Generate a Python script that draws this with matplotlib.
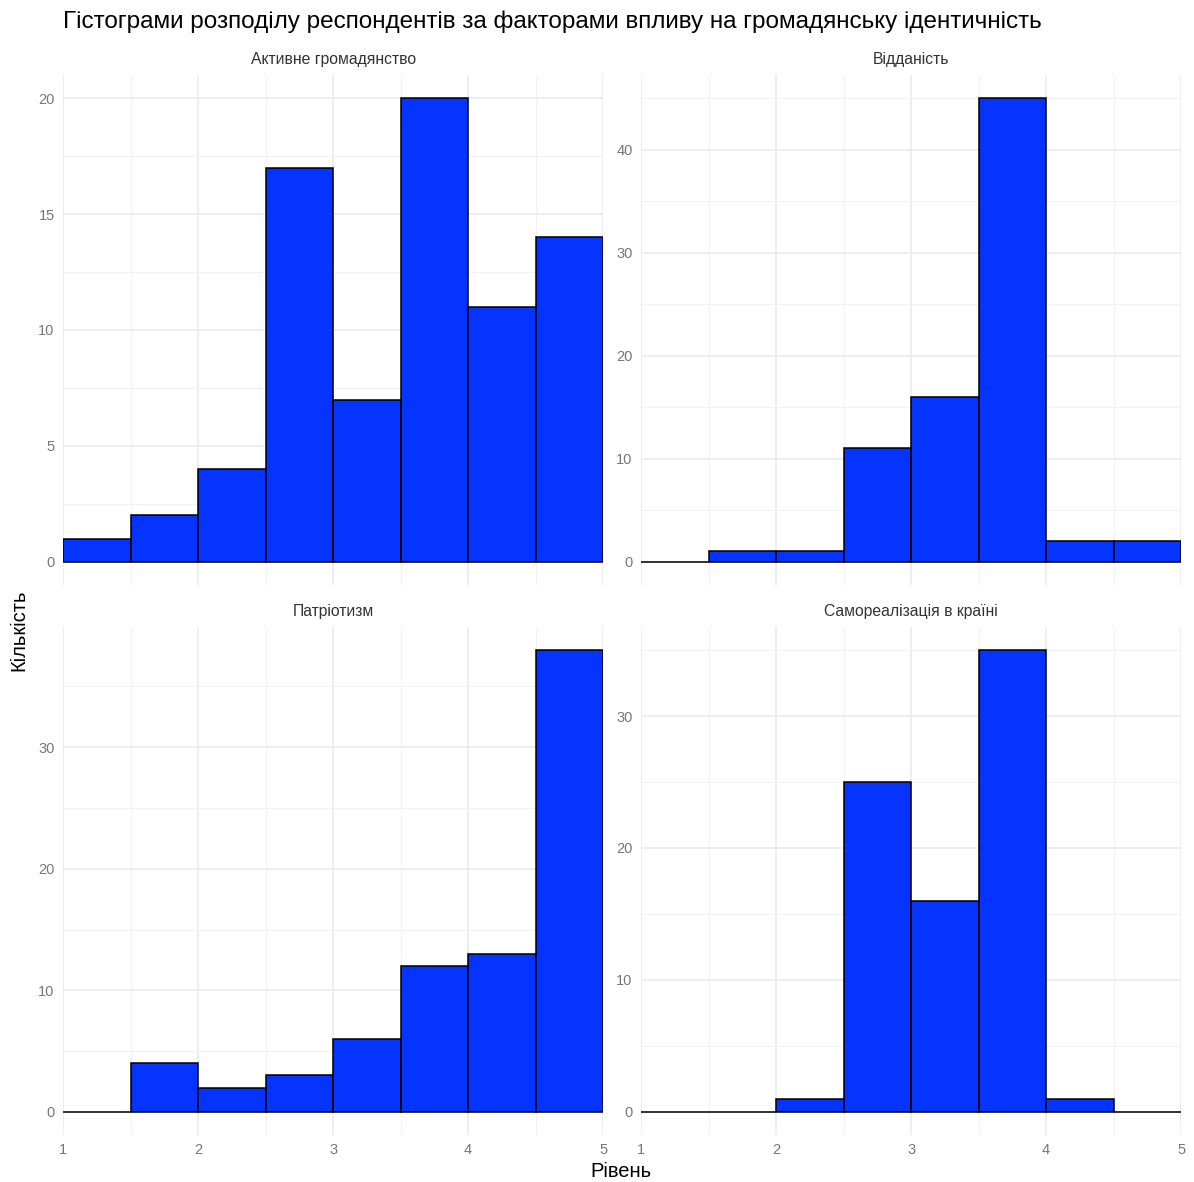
import matplotlib.pyplot as plt
from matplotlib.ticker import MultipleLocator, AutoMinorLocator

plt.rcParams['font.family'] = ['Liberation Sans', 'DejaVu Sans']

# histogram bins (width 0.5 from 1 to 5)
bin_left = [1.0, 1.5, 2.0, 2.5, 3.0, 3.5, 4.0, 4.5]
bin_width = 0.5

facets = ["Активне громадянство", "Відданість", "Патріотизм", "Самореалізація в країні"]
active_citizenship = [1, 2, 4, 17, 7, 20, 11, 14]
devotion = [0, 1, 1, 11, 16, 45, 2, 2]
patriotism = [0, 4, 2, 3, 6, 12, 13, 38]
self_realization = [0, 0, 1, 25, 16, 35, 1, 0]
counts = [active_citizenship, devotion, patriotism, self_realization]
y_steps = [5, 10, 10, 10]

x_ticks = [1, 2, 3, 4, 5]

title = "Гістограми розподілу респондентів за факторами впливу на громадянську ідентичність"

fig = plt.figure(figsize=(11.94, 11.82), dpi=100)

# panel rectangles in figure fractions (facet_wrap 2x2 layout)
panel_pos = [
    [0.0528, 0.5051, 0.4523, 0.4315],
    [0.5369, 0.5051, 0.4523, 0.4315],
    [0.0528, 0.0398, 0.4523, 0.4298],
    [0.5369, 0.0398, 0.4523, 0.4298],
]

for i, name in enumerate(facets):
    ax = fig.add_axes(panel_pos[i])
    vals = counts[i]
    ax.bar(bin_left, vals, width=bin_width, align='edge',
           color='#0533FF', edgecolor='black', linewidth=1.1, zorder=3)
    top = max(vals)
    ax.set_xlim(1, 5)
    ax.set_ylim(-0.05 * top, 1.05 * top)

    ax.set_xticks(x_ticks)
    ax.xaxis.set_minor_locator(AutoMinorLocator(2))
    ax.yaxis.set_major_locator(MultipleLocator(y_steps[i]))
    ax.yaxis.set_minor_locator(AutoMinorLocator(2))

    ax.grid(which='major', color='#EBEBEB', linewidth=1.2, zorder=0)
    ax.grid(which='minor', color='#F2F2F2', linewidth=0.8, zorder=0)
    ax.set_axisbelow(True)
    for s in ax.spines.values():
        s.set_visible(False)
    ax.tick_params(which='both', length=0, labelsize=10.5, colors='#777777', pad=6)
    if i < 2:
        ax.tick_params(axis='x', labelbottom=False)
    ax.set_title(name, fontsize=11.3, color='#333333', pad=8)

fig.text(0.053, 0.982, title, fontsize=17.5, color='black', ha='left', va='center')
fig.text(0.016, 0.467, "Кількість", fontsize=14.5, rotation=90, ha='center', va='center')
fig.text(0.52, 0.001, "Рівень", fontsize=14.5, ha='center', va='bottom')

fig.savefig("out.png", dpi=100)
